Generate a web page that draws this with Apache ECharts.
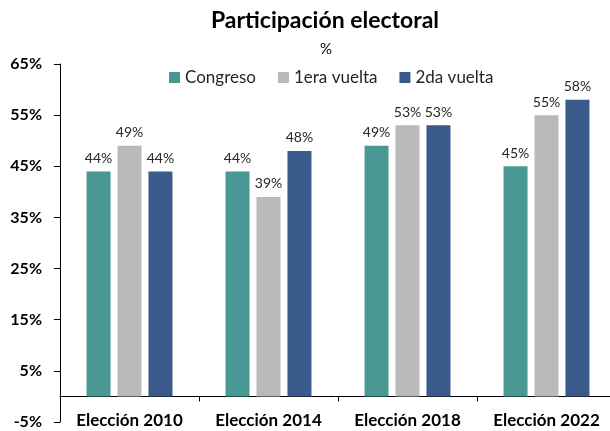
<!DOCTYPE html>
<html>
<head>
<meta charset="utf-8">
<script src="https://cdn.jsdelivr.net/npm/echarts@6/dist/echarts.min.js"></script>
<style>
  html, body { margin: 0; padding: 0; background: #fff; }
  #main { width: 610px; height: 431px; }
</style>
</head>
<body>
<div id="main"></div>
<script>
var categories = ['Elección 2010', 'Elección 2014', 'Elección 2018', 'Elección 2022'];
var congreso = [44, 44, 49, 45];
var primeraVuelta = [49, 39, 53, 55];
var segundaVuelta = [44, 48, 53, 58];
var yMin = -5, yMax = 65, yStep = 10;

var font = 'Lato, "Noto Sans", sans-serif';
var chart = echarts.init(document.getElementById('main'));

function barSeries(name, data, color) {
  return {
    name: name,
    type: 'bar',
    data: data,
    barWidth: 24,
    barGap: '29%',
    itemStyle: { color: color },
    label: {
      show: true,
      position: 'top',
      distance: 6,
      formatter: '{c}%',
      color: '#262626',
      fontSize: 14,
      fontFamily: font
    }
  };
}

var option = {
  animation: false,
  title: [
    {
      text: 'Participación electoral',
      left: 320,
      textAlign: 'center',
      top: 4,
      textStyle: { fontSize: 23, fontWeight: 'bold', color: '#000', fontFamily: font }
    },
    {
      text: '%',
      left: 321,
      textAlign: 'center',
      top: 37,
      textStyle: { fontSize: 15, fontWeight: 'normal', color: '#000', fontFamily: font }
    }
  ],
  legend: {
    top: 64,
    left: 164,
    itemWidth: 11,
    itemHeight: 11,
    itemGap: 22,
    itemTextGap: 4,
    icon: 'rect',
    textStyle: { fontSize: 17, color: '#262626', fontFamily: font }
  },
  grid: { left: 60, right: -6, top: 64, bottom: 9, containLabel: false, outerBoundsMode: 'none' },
  xAxis: {
    type: 'category',
    data: categories,
    axisLine: { onZero: true, lineStyle: { color: '#000', width: 1 } },
    axisTick: { show: true, length: 5, lineStyle: { color: '#000' } },
    axisLabel: { margin: -10, fontSize: 17, fontWeight: 'bold', color: '#000', fontFamily: font }
  },
  yAxis: {
    type: 'value',
    min: yMin,
    max: yMax,
    interval: yStep,
    splitLine: { show: false },
    axisLine: { show: true, lineStyle: { color: '#000', width: 1 } },
    axisTick: { show: true, length: 6, lineStyle: { color: '#000' } },
    axisLabel: {
      margin: 18,
      formatter: '{value}%',
      fontSize: 16,
      fontWeight: 'bold',
      color: '#000',
      fontFamily: font
    }
  },
  series: [
    barSeries('Congreso', congreso, '#4a9893'),
    barSeries('1era vuelta', primeraVuelta, '#bababa'),
    barSeries('2da vuelta', segundaVuelta, '#3a5a8c')
  ]
};
chart.setOption(option);
</script>
</body>
</html>
